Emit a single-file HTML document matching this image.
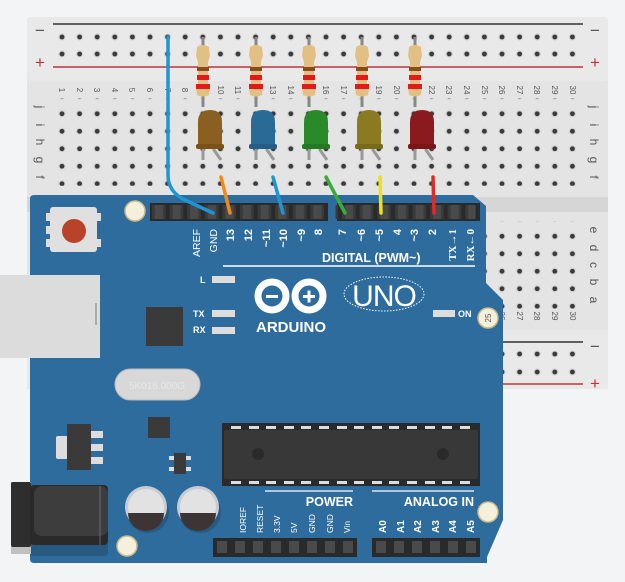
<!DOCTYPE html>
<html><head><meta charset="utf-8"><style>
html,body{margin:0;padding:0;background:#f3f4f6;}
svg{display:block;font-family:"Liberation Sans",sans-serif;}
</style></head><body>
<svg width="625" height="582" viewBox="0 0 625 582" xmlns="http://www.w3.org/2000/svg">
<defs>
<pattern id="holes" x="53.2" y="0" width="17.6" height="17.5" patternUnits="userSpaceOnUse">
<circle cx="8.8" cy="8.75" r="3.6" fill="#d2d2d2"/><circle cx="8.8" cy="8.75" r="2.4" fill="#3a3a3a"/>
</pattern>
<pattern id="holesR" x="53.2" y="28.5" width="17.6" height="17" patternUnits="userSpaceOnUse">
<circle cx="8.8" cy="8.5" r="3.6" fill="#d2d2d2"/><circle cx="8.8" cy="8.5" r="2.4" fill="#3a3a3a"/>
</pattern>
<pattern id="holesR2" x="53.2" y="345.5" width="17.6" height="18" patternUnits="userSpaceOnUse">
<circle cx="8.8" cy="8.5" r="3.6" fill="#d2d2d2"/><circle cx="8.8" cy="8.5" r="2.4" fill="#3a3a3a"/>
</pattern>
<pattern id="pins" x="150" y="0" width="17.6" height="30" patternUnits="userSpaceOnUse">
<rect x="2" y="0" width="13.6" height="30" fill="#3a3a3a"/><rect x="5" y="0" width="8" height="30" fill="#4a4a4a"/>
</pattern>
</defs>
<!-- breadboard -->
<rect x="27" y="17" width="581" height="372" rx="4" fill="#e4e4e4"/>
<rect x="27" y="17" width="581" height="64" rx="4" fill="#e9e9e9"/>
<rect x="27" y="197" width="581" height="15" fill="#d6d6d6"/>
<rect x="27" y="330" width="581" height="59" fill="#e9e9e9"/>
<line x1="53" y1="24" x2="583" y2="24" stroke="#333" stroke-width="1.5"/>
<line x1="53" y1="67" x2="583" y2="67" stroke="#c0343a" stroke-width="1.5"/>
<line x1="53" y1="342" x2="583" y2="342" stroke="#333" stroke-width="1.5"/>
<line x1="53" y1="384" x2="583" y2="384" stroke="#c0343a" stroke-width="1.5"/>
<rect x="53.2" y="28.5" width="528" height="34" fill="url(#holesR)"/>
<rect x="53.2" y="345.5" width="528" height="36" fill="url(#holesR2)"/>
<rect x="53.2" y="98.25" width="528" height="87.5" fill="url(#holes)"/>
<rect x="53.2" y="221.25" width="528" height="87.5" fill="url(#holes)"/>
<g font-size="17" fill="#555" text-anchor="middle">
<text x="40" y="36">−</text><text x="595" y="36">−</text>
<text x="40" y="68" fill="#c0343a">+</text><text x="595" y="68" fill="#c0343a">+</text>
<text x="595" y="352">−</text><text x="595" y="389" fill="#c0343a">+</text>
</g>
<g font-size="12" fill="#555" text-anchor="middle">
<text transform="translate(36,107) rotate(90)">j</text><text transform="translate(36,125) rotate(90)">i</text><text transform="translate(36,142) rotate(90)">h</text><text transform="translate(36,160) rotate(90)">g</text><text transform="translate(36,177) rotate(90)">f</text>
<text transform="translate(590,107) rotate(90)">j</text><text transform="translate(590,125) rotate(90)">i</text><text transform="translate(590,142) rotate(90)">h</text><text transform="translate(590,160) rotate(90)">g</text><text transform="translate(590,177) rotate(90)">f</text>
<text transform="translate(590,230) rotate(90)">e</text><text transform="translate(590,248) rotate(90)">d</text><text transform="translate(590,265) rotate(90)">c</text><text transform="translate(590,282) rotate(90)">b</text><text transform="translate(590,300) rotate(90)">a</text>
</g>
<g font-size="8" fill="#555" text-anchor="middle">
<text transform="translate(59,90) rotate(90)">1</text><text transform="translate(77,90) rotate(90)">2</text><text transform="translate(94,90) rotate(90)">3</text><text transform="translate(112,90) rotate(90)">4</text><text transform="translate(129,90) rotate(90)">5</text><text transform="translate(147,90) rotate(90)">6</text><text transform="translate(165,90) rotate(90)">7</text><text transform="translate(182,90) rotate(90)">8</text><text transform="translate(200,90) rotate(90)">9</text><text transform="translate(218,90) rotate(90)">10</text><text transform="translate(235,90) rotate(90)">11</text><text transform="translate(253,90) rotate(90)">12</text><text transform="translate(270,90) rotate(90)">13</text><text transform="translate(288,90) rotate(90)">14</text><text transform="translate(306,90) rotate(90)">15</text><text transform="translate(323,90) rotate(90)">16</text><text transform="translate(341,90) rotate(90)">17</text><text transform="translate(358,90) rotate(90)">18</text><text transform="translate(376,90) rotate(90)">19</text><text transform="translate(394,90) rotate(90)">20</text><text transform="translate(411,90) rotate(90)">21</text><text transform="translate(429,90) rotate(90)">22</text><text transform="translate(446,90) rotate(90)">23</text><text transform="translate(464,90) rotate(90)">24</text><text transform="translate(482,90) rotate(90)">25</text><text transform="translate(499,90) rotate(90)">26</text><text transform="translate(517,90) rotate(90)">27</text><text transform="translate(534,90) rotate(90)">28</text><text transform="translate(552,90) rotate(90)">29</text><text transform="translate(570,90) rotate(90)">30</text>
<text transform="translate(499,316) rotate(90)">26</text><text transform="translate(517,316) rotate(90)">27</text><text transform="translate(534,316) rotate(90)">28</text><text transform="translate(552,316) rotate(90)">29</text><text transform="translate(570,316) rotate(90)">30</text>
</g>
<!-- resistors -->
<g id="res">
<line x1="203" y1="37" x2="203" y2="107" stroke="#888" stroke-width="3"/>
<path d="M197,47 Q203,43 209,47 L210,56 L208,62 L208,84 L210,88 L209,95 Q203,98 197,95 L196,88 L198,84 L198,62 L196,56 Z" fill="#e2c084"/>
<rect x="197" y="67" width="12" height="4" fill="#8a4a1a"/>
<rect x="197" y="75" width="12" height="5" fill="#e21a1a"/>
<rect x="196" y="84" width="14" height="5" fill="#e21a1a"/>
</g>
<use href="#res" x="53"/><use href="#res" x="106"/><use href="#res" x="159"/><use href="#res" x="212"/>
<!-- LEDs -->
<g>
<line x1="203" y1="140" x2="203" y2="160" stroke="#999" stroke-width="3"/>
<path d="M214,140 L214,150 L221,160" stroke="#999" stroke-width="3" fill="none"/>
<path d="M198,148 L198,122 Q198,110 210,110 Q222,110 222,122 L222,148 Z" fill="#8a6020"/>
<rect x="196" y="144" width="28" height="5" rx="2" fill="#7a5218"/>
</g>
<g transform="translate(53,0)"><line x1="203" y1="140" x2="203" y2="160" stroke="#999" stroke-width="3"/><path d="M214,140 L214,150 L221,160" stroke="#999" stroke-width="3" fill="none"/><path d="M198,148 L198,122 Q198,110 210,110 Q222,110 222,122 L222,148 Z" fill="#2a6a96"/><rect x="196" y="144" width="28" height="5" rx="2" fill="#245e86"/></g>
<g transform="translate(106,0)"><line x1="203" y1="140" x2="203" y2="160" stroke="#999" stroke-width="3"/><path d="M214,140 L214,150 L221,160" stroke="#999" stroke-width="3" fill="none"/><path d="M198,148 L198,122 Q198,110 210,110 Q222,110 222,122 L222,148 Z" fill="#2a8a2a"/><rect x="196" y="144" width="28" height="5" rx="2" fill="#237a23"/></g>
<g transform="translate(159,0)"><line x1="203" y1="140" x2="203" y2="160" stroke="#999" stroke-width="3"/><path d="M214,140 L214,150 L221,160" stroke="#999" stroke-width="3" fill="none"/><path d="M198,148 L198,122 Q198,110 210,110 Q222,110 222,122 L222,148 Z" fill="#8a7a20"/><rect x="196" y="144" width="28" height="5" rx="2" fill="#7a6a18"/></g>
<g transform="translate(212,0)"><line x1="203" y1="140" x2="203" y2="160" stroke="#999" stroke-width="3"/><path d="M214,140 L214,150 L221,160" stroke="#999" stroke-width="3" fill="none"/><path d="M198,148 L198,122 Q198,110 210,110 Q222,110 222,122 L222,148 Z" fill="#8a1a1e"/><rect x="196" y="144" width="28" height="5" rx="2" fill="#7a1518"/></g>
<!-- Arduino board -->
<path d="M34,195 L473,195 L486,206 L486,283 L503,300 L503,520 L487,557 L487,563 L34,563 Q30,563 30,559 L30,199 Q30,195 34,195 Z" fill="#2d6c9c"/>
<rect x="0" y="275" width="100" height="83" fill="#dcdcdc"/>
<rect x="95" y="303" width="2" height="22" fill="#aaa"/>
<!-- reset -->
<rect x="46" y="213" width="5" height="8" fill="#ddd"/><rect x="46" y="226" width="5" height="8" fill="#ddd"/><rect x="46" y="239" width="5" height="8" fill="#ddd"/>
<rect x="96" y="213" width="5" height="8" fill="#ddd"/><rect x="96" y="239" width="5" height="8" fill="#ddd"/>
<rect x="50" y="207" width="47" height="45" rx="3" fill="#e0e0e0"/>
<circle cx="74" cy="231" r="12" fill="#b8432a"/>
<!-- mount holes -->
<g fill="#f5f0dc" stroke="#c9b98a" stroke-width="1.5">
<circle cx="135" cy="211" r="10"/><circle cx="488" cy="318" r="10"/><circle cx="488" cy="512" r="10"/>
</g>
<text x="488" y="321" font-size="8" fill="#555" text-anchor="middle" transform="rotate(-90 488 318)">25</text>
<!-- headers -->
<rect x="150" y="203" width="178" height="18" fill="#2a2a2a"/>
<rect x="150" y="205" width="176" height="14" fill="url(#pins)"/>
<rect x="337" y="203" width="143" height="18" fill="#2a2a2a"/>
<rect x="339" y="205" width="140" height="14" fill="url(#pins)" transform="translate(-3.5,0)"/>
<rect x="213" y="538" width="144" height="19" fill="#2a2a2a"/>
<rect x="372" y="538" width="108" height="19" fill="#2a2a2a"/>
<g fill="#4a4a4a">
<rect x="217" y="541" width="10" height="12"/><rect x="235" y="541" width="10" height="12"/><rect x="253" y="541" width="10" height="12"/><rect x="271" y="541" width="10" height="12"/><rect x="289" y="541" width="10" height="12"/><rect x="307" y="541" width="10" height="12"/><rect x="325" y="541" width="10" height="12"/><rect x="343" y="541" width="10" height="12"/>
<rect x="376" y="541" width="10" height="12"/><rect x="394" y="541" width="10" height="12"/><rect x="412" y="541" width="10" height="12"/><rect x="430" y="541" width="10" height="12"/><rect x="448" y="541" width="10" height="12"/><rect x="466" y="541" width="10" height="12"/>
</g>
<!-- wires -->
<g fill="none" stroke-width="3.5" stroke-linecap="round">
<path d="M168,37 L168,175 Q168,192 185,200 L213,213" stroke="#1e96d6"/>
<path d="M221,177 L230,213" stroke="#f08a1a"/>
<path d="M273,177 L283,213" stroke="#1e96d6"/>
<path d="M326,177 L345,213" stroke="#3aaa3a"/>
<path d="M380,177 L381,213" stroke="#f0e01a"/>
<path d="M433,177 L434,213" stroke="#e02a2a"/>
</g>
<!-- pin labels (top-aligned at y=229) -->
<g font-size="10.5" fill="#fff" text-anchor="end">
<text transform="translate(200,229) rotate(-90)">AREF</text>
<text transform="translate(217,229) rotate(-90)">GND</text>
<g font-weight="bold" font-size="11">
<text transform="translate(234,229) rotate(-90)">13</text>
<text transform="translate(252,229) rotate(-90)">12</text>
<text transform="translate(270,229) rotate(-90)">~11</text>
<text transform="translate(287,229) rotate(-90)">~10</text>
<text transform="translate(305,229) rotate(-90)">~9</text>
<text transform="translate(322,229) rotate(-90)">8</text>
<text transform="translate(346,229) rotate(-90)">7</text>
<text transform="translate(365,229) rotate(-90)">~6</text>
<text transform="translate(383,229) rotate(-90)">~5</text>
<text transform="translate(401,229) rotate(-90)">4</text>
<text transform="translate(418,229) rotate(-90)">~3</text>
<text transform="translate(436,229) rotate(-90)">2</text>
<text transform="translate(456,229) rotate(-90)" font-family="Liberation Serif">TX→1</text>
<text transform="translate(474,229) rotate(-90)" font-family="Liberation Serif">RX←0</text>
</g>
</g>
<text x="322" y="262" font-size="12.5" fill="#fff" font-weight="bold">DIGITAL (PWM~)</text>
<line x1="223" y1="266" x2="475" y2="266" stroke="#fff" stroke-width="1.5"/>
<!-- LEDs small -->
<g font-size="9" fill="#fff" font-weight="bold">
<text x="200" y="283">L</text><text x="193" y="317">TX</text><text x="193" y="333">RX</text><text x="458" y="317">ON</text>
</g>
<g fill="#ddd"><rect x="212" y="276" width="23" height="7"/><rect x="212" y="310" width="23" height="7"/><rect x="212" y="327" width="23" height="7"/><rect x="433" y="310" width="22" height="7"/></g>
<!-- logo -->
<g fill="none" stroke="#fff" stroke-width="7">
<circle cx="272" cy="296" r="14"/><circle cx="309" cy="296" r="14"/>
</g>
<rect x="266" y="295" width="12" height="3" fill="#fff"/>
<rect x="303" y="295" width="12" height="3" fill="#fff"/><rect x="307.5" y="290.5" width="3" height="12" fill="#fff"/>
<text x="291" y="332" font-size="15" fill="#fff" font-weight="bold" text-anchor="middle">ARDUINO</text>
<ellipse cx="384" cy="294" rx="40" ry="17" fill="none" stroke="#fff" stroke-width="1" stroke-dasharray="1.5 1.5"/>
<text x="384" y="306" font-size="30" fill="#fff" text-anchor="middle" style="letter-spacing:-1px">UNO</text>
<!-- chips -->
<rect x="146" y="307" width="37" height="39" fill="#3a3a3a"/>
<rect x="115" y="369" width="85" height="31" rx="15.5" fill="#d8d8d8" stroke="#bbb"/>
<text x="157" y="389" font-size="10" fill="#e8e8e8" text-anchor="middle">5K016.000G</text>
<rect x="148" y="417" width="22" height="21" fill="#3a3a3a"/>
<rect x="56" y="436" width="12" height="23" rx="2" fill="#ddd"/>
<rect x="67" y="424" width="24" height="46" fill="#3a3a3a"/>
<rect x="91" y="431" width="12" height="7" fill="#ddd"/><rect x="91" y="444" width="12" height="7" fill="#ddd"/><rect x="91" y="457" width="12" height="7" fill="#ddd"/>
<rect x="169" y="456" width="5" height="4" fill="#ddd"/><rect x="169" y="467" width="5" height="4" fill="#ddd"/><rect x="186" y="456" width="5" height="4" fill="#ddd"/><rect x="186" y="467" width="5" height="4" fill="#ddd"/>
<rect x="174" y="453" width="12" height="21" fill="#3a3a3a"/>
<!-- main IC -->
<rect x="222" y="423" width="258" height="63" fill="#2a2a2a"/>
<rect x="224" y="430" width="254" height="49" rx="2" fill="#383838"/>
<g fill="#ddd">
<rect x="231" y="426" width="10" height="3"/><rect x="249" y="426" width="10" height="3"/><rect x="266" y="426" width="10" height="3"/><rect x="284" y="426" width="10" height="3"/><rect x="301" y="426" width="10" height="3"/><rect x="319" y="426" width="10" height="3"/><rect x="337" y="426" width="10" height="3"/><rect x="354" y="426" width="10" height="3"/><rect x="372" y="426" width="10" height="3"/><rect x="389" y="426" width="10" height="3"/><rect x="407" y="426" width="10" height="3"/><rect x="425" y="426" width="10" height="3"/><rect x="442" y="426" width="10" height="3"/><rect x="460" y="426" width="10" height="3"/>
<rect x="231" y="481" width="10" height="3"/><rect x="249" y="481" width="10" height="3"/><rect x="266" y="481" width="10" height="3"/><rect x="284" y="481" width="10" height="3"/><rect x="301" y="481" width="10" height="3"/><rect x="319" y="481" width="10" height="3"/><rect x="337" y="481" width="10" height="3"/><rect x="354" y="481" width="10" height="3"/><rect x="372" y="481" width="10" height="3"/><rect x="389" y="481" width="10" height="3"/><rect x="407" y="481" width="10" height="3"/><rect x="425" y="481" width="10" height="3"/><rect x="442" y="481" width="10" height="3"/><rect x="460" y="481" width="10" height="3"/>
</g>
<circle cx="258" cy="454" r="6" fill="#2a2a2a"/><circle cx="443" cy="454" r="6" fill="#2a2a2a"/>
<!-- jack -->
<rect x="30" y="489" width="78" height="67" rx="3" fill="#285a80"/>
<rect x="11" y="482" width="20" height="72" fill="#c0c0c0"/>
<rect x="11" y="482" width="20" height="65" rx="2" fill="#2e2e2e"/>
<rect x="30" y="485" width="78" height="60" rx="4" fill="#2a2a2a"/>
<rect x="34" y="486" width="74" height="50" rx="8" fill="#3d3d3d"/>
<line x1="100" y1="486" x2="100" y2="545" stroke="#777" stroke-width="0.8"/>
<!-- capacitors -->
<circle cx="148" cy="512" r="21" fill="#285a80"/><circle cx="200" cy="512" r="21" fill="#285a80"/>
<circle cx="146" cy="507" r="21" fill="#c8ccd2"/><circle cx="198" cy="507" r="21" fill="#c8ccd2"/>
<circle cx="146" cy="507" r="18" fill="#e2e2e2"/><circle cx="198" cy="507" r="18" fill="#e2e2e2"/>
<path d="M128,513 L164,513 A18,18 0 0 1 128,513 Z" fill="#3d3535"/>
<path d="M180,513 L216,513 A18,18 0 0 1 180,513 Z" fill="#3d3535"/>
<circle cx="127" cy="546" r="10" fill="#f5f0dc" stroke="#c9b98a" stroke-width="1.5"/>
<!-- power labels -->
<line x1="265" y1="491" x2="353" y2="491" stroke="#fff" stroke-width="1.2"/>
<line x1="372" y1="491" x2="474" y2="491" stroke="#fff" stroke-width="1.2"/>
<text x="353" y="506" font-size="12.5" fill="#fff" font-weight="bold" text-anchor="end">POWER</text>
<text x="474" y="506" font-size="12.5" fill="#fff" font-weight="bold" text-anchor="end">ANALOG IN</text>
<g font-size="8.5" fill="#fff">
<text transform="translate(246,533) rotate(-90)">IOREF</text>
<text transform="translate(263,533) rotate(-90)">RESET</text>
<text transform="translate(280,533) rotate(-90)">3.3V</text>
<text transform="translate(297,533) rotate(-90)">5V</text>
<text transform="translate(315,533) rotate(-90)">GND</text>
<text transform="translate(333,533) rotate(-90)">GND</text>
<text transform="translate(350,533) rotate(-90)">Vin</text>
</g>
<g font-size="10" fill="#fff" font-weight="bold">
<text transform="translate(386,533) rotate(-90)">A0</text>
<text transform="translate(404,533) rotate(-90)">A1</text>
<text transform="translate(421,533) rotate(-90)">A2</text>
<text transform="translate(439,533) rotate(-90)">A3</text>
<text transform="translate(456,533) rotate(-90)">A4</text>
<text transform="translate(474,533) rotate(-90)">A5</text>
</g>
</svg>
</body></html>
